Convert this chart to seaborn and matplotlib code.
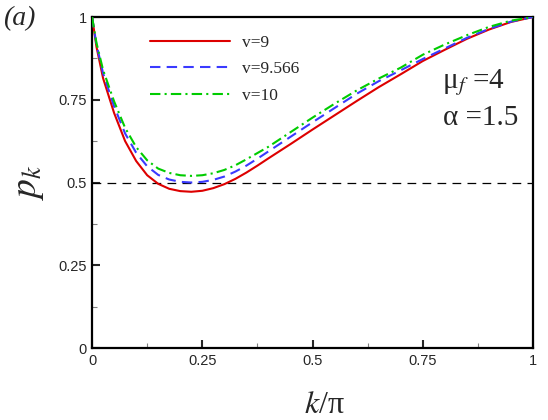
import numpy as np
import pandas as pd
import matplotlib
matplotlib.use("Agg")
import matplotlib.pyplot as plt
import seaborn as sns

# --- DATI ---
k_vals = [0.0, 0.01, 0.025, 0.05, 0.075, 0.1, 0.125, 0.15, 0.175, 0.2, 0.225, 0.25,
          0.275, 0.3, 0.325, 0.35, 0.375, 0.4, 0.45, 0.5, 0.55, 0.6, 0.65, 0.7, 0.75,
          0.8, 0.85, 0.9, 0.95, 1.0]
p_v9 = [1.0, 0.91, 0.815, 0.71, 0.625, 0.565, 0.522, 0.496, 0.481, 0.474, 0.472, 0.475,
        0.483, 0.495, 0.511, 0.530, 0.551, 0.573, 0.616, 0.660, 0.703, 0.746, 0.788, 0.827,
        0.867, 0.901, 0.934, 0.962, 0.985, 1.0]
p_v9566 = [1.0, 0.917, 0.83, 0.73, 0.648, 0.59, 0.549, 0.523, 0.509, 0.502, 0.5, 0.502,
           0.508, 0.518, 0.533, 0.551, 0.572, 0.594, 0.638, 0.682, 0.725, 0.768, 0.806, 0.839,
           0.873, 0.905, 0.937, 0.964, 0.986, 1.0]
p_v10 = [1.0, 0.922, 0.84, 0.745, 0.665, 0.607, 0.567, 0.542, 0.529, 0.522, 0.52, 0.522,
         0.528, 0.538, 0.552, 0.570, 0.589, 0.608, 0.652, 0.696, 0.738, 0.778, 0.814, 0.847,
         0.886, 0.917, 0.945, 0.970, 0.989, 1.0]
series_labels = ["v=9", "v=9.566", "v=10"]
tick_vals = [0, 0.25, 0.5, 0.75, 1]
tick_labels = ["0", "0.25", "0.5", "0.75", "1"]
minor_vals = [0.125, 0.375, 0.625, 0.875]

df = pd.DataFrame({
    "k": k_vals * 3,
    "p": p_v9 + p_v9566 + p_v10,
    "serie": [series_labels[0]] * len(k_vals) + [series_labels[1]] * len(k_vals)
             + [series_labels[2]] * len(k_vals),
})

sns.set_style("ticks")
plt.rcParams['font.family'] = ['Liberation Sans', 'DejaVu Sans']
plt.rcParams['mathtext.fontset'] = 'stix'

colori = {"v=9": "#dd0000", "v=9.566": "#3a3aff", "v=10": "#00cc00"}
tratti = {"v=9": "", "v=9.566": (5, 3), "v=10": (5, 2, 1, 2)}

fig = plt.figure(figsize=(5.48, 4.2), dpi=100)
ax = fig.add_axes([0.168, 0.1714, 0.8046, 0.7881])

ax.axhline(0.5, color="black", lw=0.9, dashes=(7, 5), zorder=1)
sns.lineplot(data=df, x="k", y="p", hue="serie", style="serie", palette=colori,
             dashes=tratti, linewidth=1.5, ax=ax, legend=False, zorder=3)

# legenda manuale
handles = [plt.Line2D([], [], color=colori[s], lw=1.5,
                      dashes=tratti[s] if tratti[s] else (None, None)) for s in series_labels]
ax.legend(handles, series_labels, loc="upper left", bbox_to_anchor=(0.096, 0.994),
          frameon=False, handlelength=4.6, handletextpad=0.7, labelspacing=0.6,
          prop={"family": "Liberation Serif", "size": 12.5})

ax.set_xlim(0, 1)
ax.set_ylim(0, 1)
ax.set_xticks(tick_vals)
ax.set_xticklabels(tick_labels)
ax.set_yticks(tick_vals)
ax.set_yticklabels(tick_labels)
ax.set_xticks(minor_vals, minor=True)
ax.set_yticks(minor_vals, minor=True)
ax.tick_params(which="major", direction="in", length=6, width=1.5, labelsize=10.5,
               top=False, right=False, pad=4)
ax.tick_params(which="minor", direction="in", length=3.5, width=0.8, color="gray",
               top=False, right=False)
for sp in ax.spines.values():
    sp.set_visible(True)
    sp.set_linewidth(1.6)
    sp.set_color("black")

ax.set_xlabel("$k$/π", fontsize=23, family="Liberation Serif")
ax.xaxis.set_label_coords(0.526, -0.13)
ax.set_ylabel(r"$p_k$", fontsize=27)
ax.yaxis.set_label_coords(-0.105, 0.5)

fig.text(0.005, 0.985, "(a)", fontsize=20, style="italic", family="Liberation Serif",
         va="top", ha="left")
ax.text(0.794, 0.785, "μ$_f$ =4", fontsize=21, family="Liberation Serif",
        va="baseline", transform=ax.transAxes)
ax.text(0.796, 0.674, "α =1.5", fontsize=21, family="Liberation Serif",
        va="baseline", transform=ax.transAxes)

plt.savefig("out.png", dpi=100)
plt.close()
